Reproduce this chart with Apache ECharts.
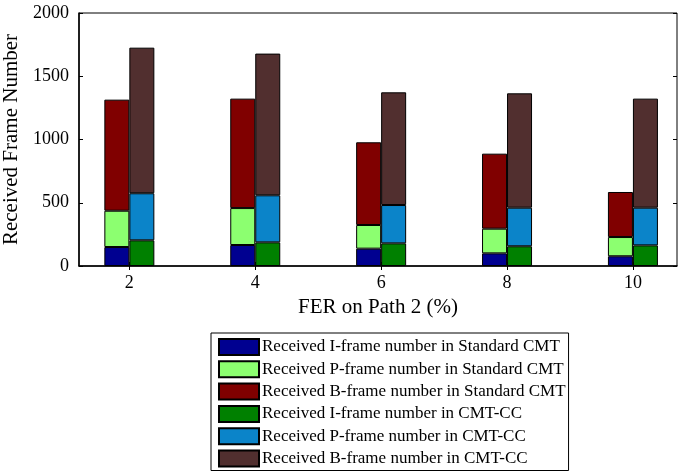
<!DOCTYPE html>
<html>
<head>
<meta charset="utf-8">
<script src="https://cdn.jsdelivr.net/npm/echarts@6/dist/echarts.min.js"></script>
<style>
html,body{margin:0;padding:0;background:#fff;}
#chart{width:679px;height:471px;}
</style>
</head>
<body>
<div id="chart"></div>
<script>
// FER values on path 2 (%)
var ferValues = [2, 4, 6, 8, 10];
var yTicks = [0, 500, 1000, 1500, 2000];

// Standard CMT (stacked segments)
var stdI = [150, 166, 137, 100, 77];
var stdP = [287, 292, 187, 195, 152];
var stdB = [878, 865, 654, 593, 356];
// CMT-CC (stacked segments)
var ccI = [203, 187, 179, 156, 163];
var ccP = [372, 372, 303, 305, 298];
var ccB = [1151, 1120, 891, 904, 862];

var seriesNames = [
    'Received I-frame number in Standard CMT',
    'Received P-frame number in Standard CMT',
    'Received B-frame number in Standard CMT',
    'Received I-frame number in CMT-CC',
    'Received P-frame number in CMT-CC',
    'Received B-frame number in CMT-CC'
];
var colors = ['#000090', '#8cff70', '#800000', '#008000', '#0b84c9', '#512f2f'];

var font = '"Liberation Serif", "DejaVu Serif", serif';

// frame of the plot: x runs 1.2 .. 10.7
var xMin = 1.2, xMax = 10.7;
var plotLeft = 79, plotRight = 677, plotTop = 13, plotBottom = 266;
// bars sit on a hidden category axis whose bands are 2 units wide
var unitPx = (plotRight - plotLeft) / (xMax - xMin);
var barGridLeft = plotLeft + (ferValues[0] - 1 - xMin) * unitPx;
var barGridWidth = ferValues.length * 2 * unitPx;

function barSeries(name, vals, stack, color){
    return {
        name: name,
        type: 'bar',
        xAxisIndex: 2,
        yAxisIndex: 2,
        stack: stack,
        barWidth: 25,
        barGap: 0,
        data: vals,
        itemStyle: { color: color, borderColor: '#000', borderWidth: 1 }
    };
}

var chart = echarts.init(document.getElementById('chart'));

var tickStyle = { show: true, inside: true, length: 4, lineStyle: { color: '#000' } };

var option = {
    animation: false,
    textStyle: { fontFamily: font },
    grid: [
        { left: plotLeft, right: 679 - plotRight, top: plotTop, bottom: 471 - plotBottom,
          outerBoundsMode: 'none', containLabel: false,
          show: true, borderColor: '#000', borderWidth: 1 },
        { left: barGridLeft, width: barGridWidth, top: plotTop, bottom: 471 - plotBottom,
          outerBoundsMode: 'none', containLabel: false }
    ],
    xAxis: [{
        type: 'value',
        gridIndex: 0,
        min: xMin,
        max: xMax,
        name: 'FER on Path 2 (%)',
        nameLocation: 'middle',
        nameGap: 29,
        nameTextStyle: { fontSize: 21, color: '#000', fontFamily: font },
        axisLine: { show: true, lineStyle: { color: '#000', width: 1.5 } },
        axisTick: Object.assign({ customValues: ferValues }, tickStyle),
        splitLine: { show: false },
        axisLabel: { color: '#000', fontSize: 18, fontFamily: font, margin: 8, customValues: ferValues }
    }, {
        type: 'value',
        gridIndex: 0,
        position: 'top',
        min: xMin,
        max: xMax,
        axisLine: { show: false },
        axisTick: Object.assign({ customValues: ferValues }, tickStyle),
        axisLabel: { show: false, customValues: ferValues },
        splitLine: { show: false }
    }, {
        type: 'category',
        gridIndex: 1,
        data: ferValues.map(String),
        show: false
    }],
    yAxis: [{
        type: 'value',
        gridIndex: 0,
        min: yTicks[0],
        max: yTicks[yTicks.length - 1],
        interval: 500,
        name: 'Received Frame Number',
        nameLocation: 'middle',
        nameGap: 57,
        nameTextStyle: { fontSize: 21, color: '#000', fontFamily: font },
        axisLine: { show: true, lineStyle: { color: '#000', width: 1.5 } },
        axisTick: tickStyle,
        splitLine: { show: false },
        axisLabel: { color: '#000', fontSize: 18, fontFamily: font, margin: 10,
                     formatter: function(v){ return String(v); } }
    }, {
        type: 'value',
        gridIndex: 0,
        position: 'right',
        min: yTicks[0],
        max: yTicks[yTicks.length - 1],
        interval: 500,
        axisLine: { show: false },
        axisTick: tickStyle,
        axisLabel: { show: false },
        splitLine: { show: false }
    }, {
        type: 'value',
        gridIndex: 1,
        min: yTicks[0],
        max: yTicks[yTicks.length - 1],
        show: false
    }],
    legend: {
        orient: 'vertical',
        left: 211,
        top: 333,
        height: 300,
        padding: [5, 3, 3, 7],
        itemWidth: 40,
        itemHeight: 16,
        itemGap: 4.3,
        borderColor: '#000',
        borderWidth: 1,
        icon: 'rect',
        textStyle: { fontSize: 17, color: '#000', fontFamily: font, padding: [0, 0, 0, -2] },
        data: seriesNames
    },
    series: [
        barSeries(seriesNames[0], stdI, 'std', colors[0]),
        barSeries(seriesNames[1], stdP, 'std', colors[1]),
        barSeries(seriesNames[2], stdB, 'std', colors[2]),
        barSeries(seriesNames[3], ccI, 'cc', colors[3]),
        barSeries(seriesNames[4], ccP, 'cc', colors[4]),
        barSeries(seriesNames[5], ccB, 'cc', colors[5])
    ]
};

chart.setOption(option);
</script>
</body>
</html>
